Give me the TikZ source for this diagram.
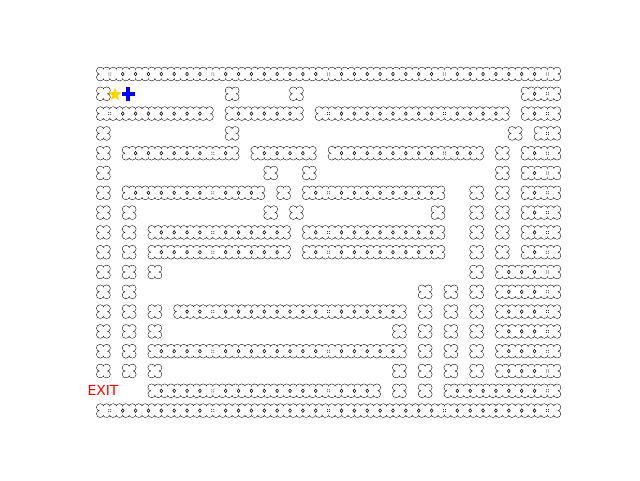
\documentclass[tikz,border=0pt]{standalone}
\usepackage{fontspec}
\newfontfamily\dejavu{DejaVu Sans}
\usetikzlibrary{shapes.geometric}
\definecolor{gold}{RGB}{255,215,0}
\definecolor{pblue}{RGB}{0,0,255}
\definecolor{exitred}{RGB}{255,0,0}
\tikzset{
  wallstroke/.style={draw=black,line width=0.95pt},
  wallfill/.style={fill=white},
  hole/.style={draw=black,line width=0.55pt},
  dotmark/.style={fill=black},
}
\def\runs{0/0/35,
1/0/0,1/10/10,1/15/15,1/33/35,
2/0/8,2/10/15,2/17/31,2/33/35,
3/0/0,3/10/10,3/32/32,3/34/35,
4/0/0,4/2/10,4/12/16,4/18/29,4/31/31,4/33/35,
5/0/0,5/13/13,5/16/16,5/31/31,5/33/35,
6/0/0,6/2/12,6/14/14,6/16/26,6/29/29,6/31/31,6/33/35,
7/0/0,7/2/2,7/13/13,7/15/15,7/26/26,7/29/29,7/31/31,7/33/35,
8/0/0,8/2/2,8/4/14,8/16/26,8/29/29,8/31/31,8/33/35,
9/0/0,9/2/2,9/4/14,9/16/26,9/29/29,9/31/31,9/33/35,
10/0/0,10/2/2,10/4/4,10/29/29,10/31/35,
11/0/0,11/2/2,11/25/25,11/27/27,11/29/29,11/31/35,
12/0/0,12/2/2,12/4/4,12/6/23,12/25/25,12/27/27,12/29/29,12/31/35,
13/0/0,13/2/2,13/4/4,13/23/23,13/25/25,13/27/27,13/29/29,13/31/35,
14/0/0,14/2/2,14/4/23,14/25/25,14/27/27,14/29/29,14/31/35,
15/0/0,15/2/2,15/4/4,15/23/23,15/25/25,15/27/27,15/29/29,15/31/35,
16/4/21,16/23/23,16/25/25,16/27/35,
17/0/35}
\newcommand\mzrun[4]{% style, row, c1, c2
  \pgfmathsetmacro\yy{74+19.8*#2}
  \pgfmathsetmacro\xa{103.4+12.87*#3}
  \pgfmathsetmacro\xb{103.4+12.87*#4}
  \path[#1] (\xa-3.22,\yy-3.3) rectangle (\xb+3.22,\yy+3.3);
  \foreach \cc in {#3,...,#4}{
    \pgfmathsetmacro\xx{103.4+12.87*\cc}
    \path[#1] (\xx-3.22,\yy-3.3) ellipse[x radius=3.45,y radius=3.3]
              (\xx+3.22,\yy-3.3) ellipse[x radius=3.45,y radius=3.3]
              (\xx-3.22,\yy+3.3) ellipse[x radius=3.45,y radius=3.3]
              (\xx+3.22,\yy+3.3) ellipse[x radius=3.45,y radius=3.3];
  }
}
\begin{document}
\begin{tikzpicture}[x=1pt,y=-1pt]
\useasboundingbox (0,0) rectangle (640,480);
\fill[white] (0,0) rectangle (640,480);
% outlines
\foreach \rw/\ca/\cb in \runs {\mzrun{wallstroke}{\rw}{\ca}{\cb}}
\foreach \rw/\ca/\cb in \runs {\mzrun{wallfill}{\rw}{\ca}{\cb}}
% junction marks
\foreach \rw/\ca/\cb in \runs {
  \ifnum\ca<\cb
    \pgfmathsetmacro\yy{74+19.8*\rw}
    \pgfmathtruncatemacro\cbm{\cb-1}
    \foreach \j in {\ca,...,\cbm}{
      \pgfmathsetmacro\xx{109.835+12.87*\j}
      \pgfmathtruncatemacro\isdots{(\j==0)||(\j==8)||(\j==17)||(\j==26)||(\j==34)}
      \ifnum\isdots=1
        \fill[dotmark] (\xx-1,\yy-1) circle[radius=0.5] (\xx+1,\yy-1) circle[radius=0.5]
                       (\xx-1,\yy+1) circle[radius=0.5] (\xx+1,\yy+1) circle[radius=0.5];
      \else
        \draw[hole] (\xx,\yy) ellipse[x radius=1.4,y radius=1.8];
      \fi
    }
  \fi
}
% star and player
\node[star,star points=5,star point ratio=2.4,fill=gold,minimum size=14pt,inner sep=0pt] (goal) at (115,94.5) {};
\node[fill=pblue,minimum width=13.5pt,minimum height=4pt,inner sep=0pt] (playerh) at (128.3,94) {};
\node[fill=pblue,minimum width=4pt,minimum height=14.5pt,inner sep=0pt] (playerv) at (128.3,94) {};
% exit label
\node[text=exitred,font=\dejavu\fontsize{13.9}{15}\selectfont,inner sep=0pt] (exit) at (103,390.5) {EXIT};
\end{tikzpicture}
\end{document}
